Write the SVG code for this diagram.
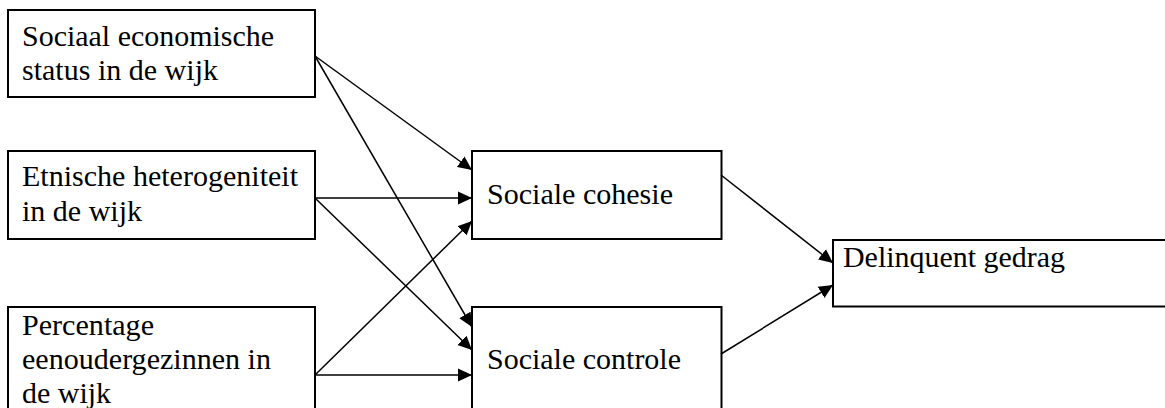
<svg xmlns="http://www.w3.org/2000/svg" width="1165" height="408" viewBox="0 0 1165 408">
<style>
.box{fill:#fff;stroke:#000;stroke-width:2}
text{font-family:'Liberation Serif','DejaVu Serif',serif;font-size:29px;fill:#000}
.c line{stroke:#000;stroke-width:1.5}
</style>
<defs>
<marker id="ah" markerUnits="userSpaceOnUse" markerWidth="16" markerHeight="14" refX="14" refY="7" orient="auto">
<path d="M0,0.5 L14,7 L0,13.5 z" fill="#000"/>
</marker>
</defs>
<rect width="1165" height="408" fill="#fff"/>
<g id="n1"><rect class="box" x="8" y="10" width="307" height="87"/>
<text x="22" y="46" textLength="252" lengthAdjust="spacingAndGlyphs">Sociaal economische</text>
<text x="22" y="80" textLength="196" lengthAdjust="spacingAndGlyphs">status in de wijk</text></g>
<g id="n2"><rect class="box" x="8" y="151" width="307" height="88"/>
<text x="22" y="186" textLength="276" lengthAdjust="spacingAndGlyphs">Etnische heterogeniteit</text>
<text x="22" y="221" textLength="120" lengthAdjust="spacingAndGlyphs">in de wijk</text></g>
<g id="n3"><rect class="box" x="8" y="307" width="307" height="120"/>
<text x="22" y="335" textLength="132" lengthAdjust="spacingAndGlyphs">Percentage</text>
<text x="22" y="369" textLength="249" lengthAdjust="spacingAndGlyphs">eenoudergezinnen in</text>
<text x="22" y="403" textLength="89" lengthAdjust="spacingAndGlyphs">de wijk</text></g>
<g id="n4"><rect class="box" x="472" y="151" width="249.5" height="88"/>
<text x="487" y="204" textLength="186" lengthAdjust="spacingAndGlyphs">Sociale cohesie</text></g>
<g id="n5"><rect class="box" x="472" y="307" width="249.5" height="120"/>
<text x="487" y="369" textLength="194" lengthAdjust="spacingAndGlyphs">Sociale controle</text></g>
<g id="n6"><rect class="box" x="833" y="240" width="350" height="66.5"/>
<text x="843" y="267" textLength="222" lengthAdjust="spacingAndGlyphs">Delinquent gedrag</text></g>
<g class="c" id="connectors">
<line x1="315" y1="56" x2="472" y2="170" marker-end="url(#ah)"/>
<line x1="315" y1="56" x2="472" y2="327" marker-end="url(#ah)"/>
<line x1="315" y1="198" x2="472" y2="198" marker-end="url(#ah)"/>
<line x1="315" y1="198" x2="472" y2="350" marker-end="url(#ah)"/>
<line x1="315" y1="375" x2="472" y2="221" marker-end="url(#ah)"/>
<line x1="315" y1="375" x2="472" y2="375" marker-end="url(#ah)"/>
<line x1="721" y1="175" x2="833" y2="263" marker-end="url(#ah)"/>
<line x1="721" y1="354" x2="833" y2="285" marker-end="url(#ah)"/>
</g>
</svg>
